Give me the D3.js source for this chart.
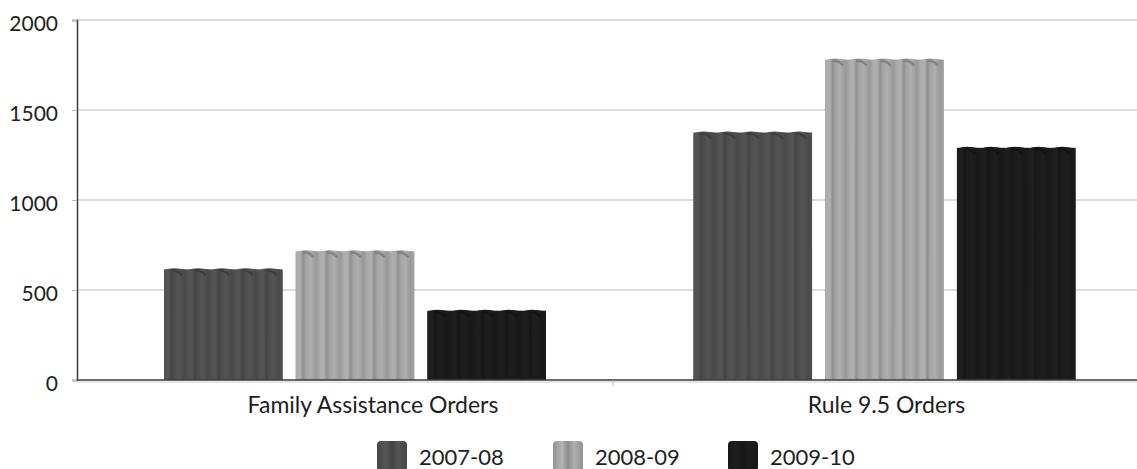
<!DOCTYPE html>
<html>
<head>
<meta charset="utf-8">
<script src="https://cdn.jsdelivr.net/npm/d3@7"></script>
<style>
  html, body { margin: 0; padding: 0; background: #fff; }
  svg { display: block; }
  text { font-family: Lato, "Open Sans", sans-serif; fill: #1e1e1e; }
</style>
</head>
<body>
<svg id="chart" width="1137" height="469"></svg>
<script>
// Orders by year
const categories = ["Family Assistance Orders", "Rule 9.5 Orders"];
const seriesNames = ["2007-08", "2008-09", "2009-10"];
const values2007 = [615, 1375];
const values2008 = [715, 1780];
const values2009 = [385, 1290];
const yTicks = [0, 500, 1000, 1500, 2000];

const seriesValues = [values2007, values2008, values2009];
const seriesColors = ["#4e4e4e", "#a3a3a3", "#1b1b1b"];

const svg = d3.select("#chart");
const W = 1137;
const plotLeft = 77, plotRight = 1149, plotTop = 20, plotBottom = 380;

const y = d3.scaleLinear().domain([0, 2000]).range([plotBottom, plotTop]);
const xPlot = d3.scaleBand().domain(categories).range([plotLeft, plotRight]);
const x0 = d3.scaleBand().domain(categories).range([90, 1149]);
const x1 = d3.scaleBand().domain(seriesNames).range([74, 456]).paddingInner(0.1);

// Fluted shading gradients, one per series
const defs = svg.append("defs");
seriesColors.forEach((c, i) => {
  const base = d3.color(c);
  const k = i === 2 ? 1.0 : 0.65;
  const g = defs.append("linearGradient").attr("id", "flute" + i)
    .attr("x1", 0).attr("x2", 1).attr("y1", 0).attr("y2", 0);
  const stops = [
    [0, base.brighter(0.15 * k)],
    [0.18, base.brighter(0.35 * k)],
    [0.32, base.darker(0.6 * k)],
    [0.42, base],
    [0.62, base.brighter(0.3 * k)],
    [0.85, base.darker(0.3 * k)],
    [1, base.brighter(0.1 * k)]
  ];
  stops.forEach(([o, col]) => g.append("stop").attr("offset", o).attr("stop-color", col.formatHex()));
  const p = defs.append("pattern").attr("id", "pat" + i)
    .attr("patternUnits", "objectBoundingBox")
    .attr("patternContentUnits", "objectBoundingBox")
    .attr("width", 0.2).attr("height", 1);
  p.append("rect").attr("width", 0.2).attr("height", 1).attr("fill", `url(#flute${i})`);
});

// Gridlines
svg.append("g").selectAll("line").data(yTicks.filter(t => t > 0)).join("line")
  .attr("x1", plotLeft).attr("x2", W).attr("y1", d => y(d)).attr("y2", d => y(d))
  .attr("stroke", "#d2d2d2").attr("stroke-width", 1.5);

// Y axis
const yAxis = svg.append("g").attr("transform", `translate(${plotLeft},0)`)
  .call(d3.axisLeft(y).tickValues(yTicks).tickSize(5).tickPadding(14).tickFormat(d3.format("d")));
yAxis.select(".domain").attr("stroke", "#3a3a3a").attr("stroke-width", 1.5);
yAxis.selectAll(".tick line").attr("stroke", "#bbb");
yAxis.selectAll(".tick text").attr("font-size", 21).attr("dy", "0.5em")
  .style("font-family", "Lato, sans-serif").attr("fill", "#1e1e1e");

// Bars
const groups = svg.append("g").selectAll("g").data(categories).join("g")
  .attr("transform", d => `translate(${x0(d)},0)`);

const flutes = 5;
groups.each(function(cat, ci) {
  const g = d3.select(this);
  seriesNames.forEach((s, si) => {
    const v = seriesValues[si][ci];
    const bx = x1(s), bw = x1.bandwidth();
    const yt = y(v), yb = y(0);
    const fw = bw / flutes;
    // outline with a gently scalloped top
    let path = `M${bx},${yb} L${bx},${yt + 1}`;
    for (let f = 0; f < flutes; f++) {
      const fx = bx + f * fw;
      path += ` Q${fx + fw * 0.35},${yt - 3} ${fx + fw},${yt + 1}`;
    }
    path += ` L${bx + bw},${yb} Z`;
    g.append("path").attr("d", path).attr("fill", seriesColors[si]);
    g.append("rect").attr("x", bx).attr("y", yt).attr("width", bw).attr("height", yb - yt)
      .attr("fill", `url(#pat${si})`);
    // shadow under each scallop
    for (let f = 0; f < flutes; f++) {
      const fx = bx + f * fw;
      g.append("path")
        .attr("d", `M${fx + fw * 0.3},${yt + 1} Q${fx + fw * 0.6},${yt + 1} ${fx + fw * 0.75},${yt + 6}`)
        .attr("fill", "none")
        .attr("stroke", d3.color(seriesColors[si]).darker(si === 2 ? 1 : 0.8).formatHex())
        .attr("stroke-width", 2.5).attr("opacity", 0.8);
    }
  });
});

// Baseline and category divider
svg.append("line").attr("x1", plotLeft).attr("x2", W).attr("y1", plotBottom).attr("y2", plotBottom)
  .attr("stroke", "#3a3a3a").attr("stroke-width", 1.5);
svg.append("line").attr("x1", plotLeft).attr("x2", W).attr("y1", plotBottom + 2).attr("y2", plotBottom + 2)
  .attr("stroke", "#ccc").attr("stroke-width", 1);
svg.append("g").selectAll("line").data(categories.slice(1)).join("line")
  .attr("x1", d => xPlot(d)).attr("x2", d => xPlot(d))
  .attr("y1", plotBottom).attr("y2", plotBottom + 6).attr("stroke", "#bbb");

// Category labels
svg.append("g").selectAll("text").data(categories).join("text")
  .attr("x", d => x0(d) + (x1.range()[0] + x1.range()[1]) / 2 + (d === categories[0] ? 18 : 2))
  .attr("y", 413).attr("text-anchor", "middle").attr("font-size", 23)
  .text(d => d);

// Legend
const legendX = [377, 553, 728];
const legend = svg.append("g").selectAll("g").data(seriesNames).join("g")
  .attr("transform", (d, i) => `translate(${legendX[i]},441)`);
legend.each(function(d, i) {
  const g = d3.select(this);
  const lg = defs.append("linearGradient").attr("id", "lg" + i)
    .attr("x1", 0).attr("x2", 1).attr("y1", 0).attr("y2", 0);
  const b = d3.color(seriesColors[i]);
  [[0, b.darker(0.3)], [0.3, b.brighter(0.3)], [0.5, b.darker(0.4)], [0.7, b.brighter(0.2)], [1, b.darker(0.3)]]
    .forEach(([o, c]) => lg.append("stop").attr("offset", o).attr("stop-color", c.formatHex()));
  g.append("rect").attr("width", 30).attr("height", 30).attr("rx", 4).attr("fill", `url(#lg${i})`);
});
legend.append("text").attr("x", 42).attr("y", 24).attr("font-size", 22).text(d => d);
</script>
</body>
</html>
